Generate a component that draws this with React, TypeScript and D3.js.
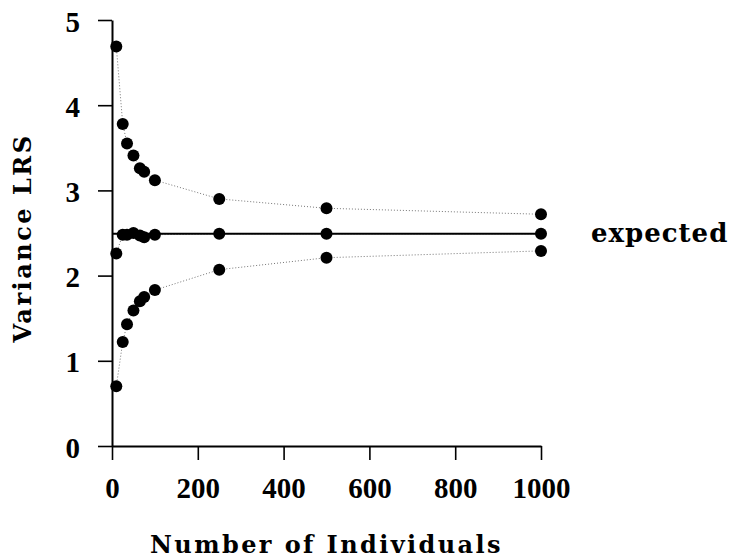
import React, { useEffect, useRef } from "react";
import * as d3 from "d3";

// sample sizes (number of individuals)
const sizes = [10, 25, 35, 50, 65, 75, 100, 250, 500, 1000];
// variance of LRS: upper envelope, mean, lower envelope
const upper = [4.69, 3.78, 3.55, 3.41, 3.26, 3.22, 3.12, 2.9, 2.79, 2.72];
const middle = [2.26, 2.48, 2.48, 2.5, 2.47, 2.45, 2.48, 2.49, 2.49, 2.49];
const lower = [0.7, 1.22, 1.43, 1.59, 1.7, 1.75, 1.83, 2.07, 2.21, 2.29];
const expected = 2.49;
const xTicks = [0, 200, 400, 600, 800, 1000];
const yTicks = [0, 1, 2, 3, 4, 5];

const FONT = "'DejaVu Serif', serif";
const NUM_FONT = "'Liberation Serif', serif";

function App() {
  const ref = useRef<SVGSVGElement>(null);

  useEffect(() => {
    const svg = d3.select(ref.current);
    svg.selectAll("*").remove();

    const x = d3.scaleLinear().domain([0, 1000]).range([112, 541]);
    const y = d3.scaleLinear().domain([0, 5]).range([446, 20]);

    // axes
    const xAxis = svg
      .append("g")
      .attr("transform", `translate(0,${y(0)})`)
      .call(d3.axisBottom(x).tickValues(xTicks).tickSize(14).tickSizeOuter(0).tickFormat(d3.format("d")));
    const yAxis = svg
      .append("g")
      .attr("transform", `translate(${x(0)},0)`)
      .call(d3.axisLeft(y).tickValues(yTicks).tickSize(14).tickSizeOuter(0).tickFormat(d3.format("d")));

    [xAxis, yAxis].forEach((g) => {
      g.select(".domain").attr("stroke", "#000").attr("stroke-width", 2);
      g.selectAll(".tick line").attr("stroke", "#000").attr("stroke-width", 1.6);
      g.selectAll(".tick text")
        .attr("fill", "#000")
        .style("font-family", NUM_FONT)
        .style("font-weight", "bold")
        .style("font-size", "29px");
    });
    xAxis.selectAll(".tick text").attr("y", 52).attr("dy", 0);
    yAxis.selectAll(".tick text").attr("x", -32).attr("dy", 11);

    // dotted connectors
    const line = d3
      .line<number>()
      .x((_, i) => x(sizes[i]))
      .y((d) => y(d));
    [upper, middle, lower].forEach((s) => {
      svg
        .append("path")
        .attr("d", line(s))
        .attr("fill", "none")
        .attr("stroke", "#777")
        .attr("stroke-width", 1)
        .attr("stroke-dasharray", "1,2");
    });

    // expected line
    svg
      .append("line")
      .attr("x1", x(0))
      .attr("x2", x(1000))
      .attr("y1", y(expected))
      .attr("y2", y(expected))
      .attr("stroke", "#000")
      .attr("stroke-width", 2);

    // points
    [upper, middle, lower].forEach((s) => {
      svg
        .append("g")
        .selectAll("circle")
        .data(s)
        .enter()
        .append("circle")
        .attr("cx", (_, i) => x(sizes[i]))
        .attr("cy", (d) => y(d))
        .attr("r", 6)
        .attr("fill", "#000");
    });

    // labels
    svg
      .append("text")
      .attr("x", 591)
      .attr("y", 242)
      .style("font-family", FONT)
      .style("font-weight", "bold")
      .style("font-size", "26px")
      .style("letter-spacing", "1px")
      .text("expected");

    svg
      .append("text")
      .attr("x", (x(0) + x(1000)) / 2)
      .attr("y", 553)
      .attr("text-anchor", "middle")
      .style("font-family", FONT)
      .style("font-weight", "bold")
      .style("font-size", "24px")
      .style("letter-spacing", "2.4px")
      .text("Number of Individuals");

    svg
      .append("text")
      .attr("transform", `translate(31,238) rotate(-90)`)
      .attr("text-anchor", "middle")
      .style("font-family", FONT)
      .style("font-weight", "bold")
      .style("font-size", "24px")
      .style("letter-spacing", "2.5px")
      .text("Variance LRS");
  }, []);

  return (
    <svg
      ref={ref}
      width={733}
      height={559}
      style={{ position: "absolute", left: 0, top: 0, background: "#fff" }}
    ></svg>
  );
}

export default App;
